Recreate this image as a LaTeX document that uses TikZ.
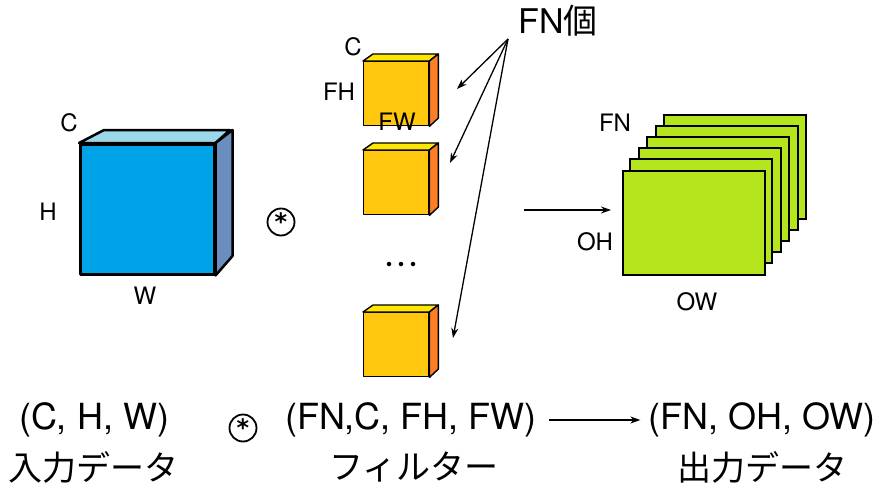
\documentclass[tikz,border=0pt]{standalone}
\usepackage{fontspec}
\setmainfont{TeX Gyre Heros}
\newfontfamily\jp{Noto Sans CJK JP}
\newfontfamily\dvs{DejaVu Sans}
\usetikzlibrary{arrows.meta}
\definecolor{bluefront}{RGB}{0,162,232}
\definecolor{bluetop}{RGB}{154,216,234}
\definecolor{blueside}{RGB}{108,142,190}
\definecolor{yfront}{RGB}{255,200,15}
\definecolor{ytop}{RGB}{255,232,0}
\definecolor{yside}{RGB}{255,127,39}
\definecolor{gfill}{RGB}{181,230,29}
\begin{document}
\begin{tikzpicture}[x=1pt,y=-1pt,
  lab/.style={font=\fontsize{24}{26}\selectfont, inner sep=0},
  big/.style={font=\fontsize{36}{40}\selectfont, inner sep=0},
  jpbig/.style={font=\jp\fontsize{34}{36}\selectfont, inner sep=0},
  ptr/.style={-{Stealth[length=10pt,width=7pt]}, line width=1.3pt},
  bcube/.style={draw=black, line width=2.5pt, line join=round},
  ycube/.style={draw=black, line width=1.4pt, line join=round},
  gsheet/.style={draw=black, fill=gfill, line width=2pt},
  conv/.style={circle, draw=black, fill=white, line width=1.8pt, minimum size=27pt, inner sep=0,
    font=\dvs\bfseries\fontsize{24}{24}\selectfont},
  dotc/.style={circle, fill=black, minimum size=4.5pt, inner sep=0}
]
\useasboundingbox (0,0) rectangle (894,495);

% ---------- input cube ----------
\node[bcube, fill=bluefront, minimum width=134pt, minimum height=130pt, inner sep=0, anchor=north west] (inp) at (79,143) {};
\filldraw[bcube, fill=bluetop] (inp.north west) -- ++(25,-13) -- ++(126,0) -- (inp.north east) -- cycle;
\filldraw[bcube, fill=blueside] (inp.north east) -- ++(17,-13) -- ++(0,126) -- (inp.south east) -- cycle;
\node[lab] (lc) at (69,123) {C};
\node[lab] (lh) at (48,212) {H};
\node[lab] (lw) at (145,296) {W};

% ---------- convolution symbol ----------
\node[conv] (op1) at (281,222) {\raisebox{-8pt}{*}};

% ---------- filter cubes ----------
\foreach \n/\y in {f1/61, f2/150, f3/312}{
  \node[ycube, fill=yfront, minimum width=65pt, minimum height=64pt, inner sep=0, anchor=north west] (\n) at (363,\y) {};
  \filldraw[ycube, fill=ytop] (\n.north west) -- ++(10,-7) -- ++(65,0) -- (\n.north east) -- cycle;
  \filldraw[ycube, fill=yside] (\n.north east) -- ++(9,-7) -- ++(0,64) -- (\n.south east) -- cycle;
}
\node[lab] (fc) at (353,47) {C};
\node[lab] (fh) at (339,92) {FH};
\node[lab] (fw) at (397,122) {FW};
\node[dotc] (d1) at (389,264) {};
\node[dotc] (d2) at (401,264) {};
\node[dotc] (d3) at (413,264) {};

% ---------- FN label and arrows ----------
\node[inner sep=0, font=\fontsize{34}{36}\selectfont] (fn) at (558,21) {FN{\jp 個}};
\coordinate (apex) at (508,39);
\coordinate (t1) at (457,89);
\coordinate (t2) at (450,163);
\coordinate (t3) at (453,338);
\draw[ptr] (apex) -- (t1);
\draw[ptr] (apex) -- (t2);
\draw[ptr] (apex) -- (t3);

% ---------- middle arrow ----------
\coordinate (ma) at (524,210);
\coordinate (mb) at (611,210);
\draw[ptr] (ma) -- (mb);

% ---------- output stack ----------
\foreach \k in {5,4,3,2,1}{
  \draw[gsheet] (622+8.4*\k,170-11*\k) rectangle ++(142,104);
}
\node[gsheet, minimum width=142pt, minimum height=104pt, inner sep=0, anchor=north west] (outp) at (622,170) {};
\node[lab] (gfn) at (615,123) {FN};
\node[lab] (goh) at (595,242) {OH};
\node[lab] (gow) at (697,302) {OW};

% ---------- bottom formula ----------
\node[big] (tin) at (94,420) {(C, H, W)};
\node[jpbig] (jin) at (94,467) {入力データ};
\node[conv] (op2) at (243,428) {\raisebox{-8pt}{*}};
\node[big] (tfl) at (411,420) {(FN,C, FH, FW)};
\node[jpbig] (jfl) at (414,467) {フィルター};
\node[big] (tout) at (762,420) {(FN, OH, OW)};
\node[jpbig] (jout) at (762,467) {出力データ};
\draw[ptr, shorten <=12pt, shorten >=8pt] (tfl.east) -- (tout.west);
\end{tikzpicture}
\end{document}
